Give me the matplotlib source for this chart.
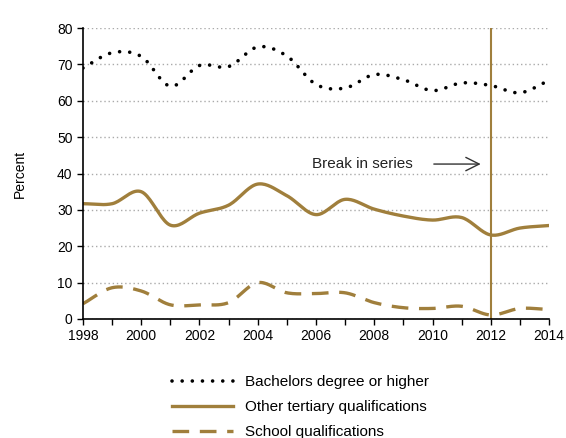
import numpy as np
import matplotlib.pyplot as plt

plt.rcParams['font.family'] = ['Liberation Sans', 'DejaVu Sans']

years = list(range(1998, 2015))
bachelors = [69.0, 73.2, 72.2, 64.0, 69.7, 69.4, 74.8, 72.3, 64.5, 63.5,
             67.2, 65.8, 62.8, 64.9, 64.2, 62.2, 65.6]
other_tertiary = [31.7, 31.7, 35.0, 25.8, 29.1, 31.3, 37.1, 33.9, 28.7, 32.9,
                  30.2, 28.3, 27.2, 27.9, 23.1, 25.0, 25.7]
school = [4.2, 8.6, 7.7, 3.9, 3.9, 4.5, 10.0, 7.2, 7.0, 7.2,
          4.5, 3.1, 2.9, 3.5, 1.1, 2.9, 2.6]
break_year = 2012

gold = '#A07F3C'


def smooth(x, y, n=20):
    # Excel-style smoothed line (Catmull-Rom through the points)
    x = np.asarray(x, float)
    y = np.asarray(y, float)
    px = np.concatenate([[2 * x[0] - x[1]], x, [2 * x[-1] - x[-2]]])
    py = np.concatenate([[2 * y[0] - y[1]], y, [2 * y[-1] - y[-2]]])
    xs, ys = [], []
    t = np.linspace(0, 1, n, endpoint=False)
    for i in range(1, len(px) - 2):
        for p, out in ((px, xs), (py, ys)):
            p0, p1, p2, p3 = p[i - 1], p[i], p[i + 1], p[i + 2]
            out.extend(0.5 * (2 * p1 + (-p0 + p2) * t
                              + (2 * p0 - 5 * p1 + 4 * p2 - p3) * t ** 2
                              + (-p0 + 3 * p1 - 3 * p2 + p3) * t ** 3))
    xs.append(x[-1])
    ys.append(y[-1])
    return xs, ys


fig = plt.figure(figsize=(5.66, 4.38), dpi=100)
ax = fig.add_axes([0.1466, 0.2717, 0.8234, 0.6643])

ax.plot(*smooth(years, bachelors), color='black', lw=2.6,
        linestyle=(0, (0.01, 2.8)), dash_capstyle='round',
        label='Bachelors degree or higher')
ax.plot(*smooth(years, other_tertiary), color=gold, lw=2.4,
        label='Other tertiary qualifications')
ax.plot(*smooth(years, school), color=gold, lw=2.4,
        linestyle=(0, (5, 3.2)), label='School qualifications')

ax.axvline(break_year, ymin=0, ymax=1, color=gold, lw=1.5)
ax.annotate('', xy=(2011.75, 42.6), xytext=(2009.95, 42.6),
            arrowprops=dict(arrowstyle='->', color='#333333', lw=1,
                            mutation_scale=24))
ax.text(2005.85, 42.6, 'Break in series', fontsize=11, va='center',
        ha='left', color='#222222')

ax.set_xlim(1998, 2014)
ax.set_ylim(0, 80)
ax.set_xticks(range(1998, 2015, 2))
ax.set_xticks(range(1998, 2015), minor=True)
ax.set_yticks(range(0, 81, 10))
ax.tick_params(axis='both', labelsize=10, direction='out', length=4, width=1)
ax.tick_params(axis='x', which='minor', length=4, width=1)
ax.grid(axis='y', color='#AAAAAA', linestyle=(0, (1, 2)), lw=1)
ax.set_axisbelow(True)
for s in ('top', 'right'):
    ax.spines[s].set_visible(False)
for s in ('left', 'bottom'):
    ax.spines[s].set_linewidth(1.2)
ax.set_ylabel('Percent', fontsize=10)
ax.yaxis.set_label_coords(-0.12, 0.5)

ax.legend(loc='upper left', bbox_to_anchor=(0.178, -0.172), frameon=False,
          fontsize=11, handlelength=4.0, handletextpad=0.8,
          labelspacing=0.73, borderaxespad=0)

fig.savefig('out.png', dpi=100)
